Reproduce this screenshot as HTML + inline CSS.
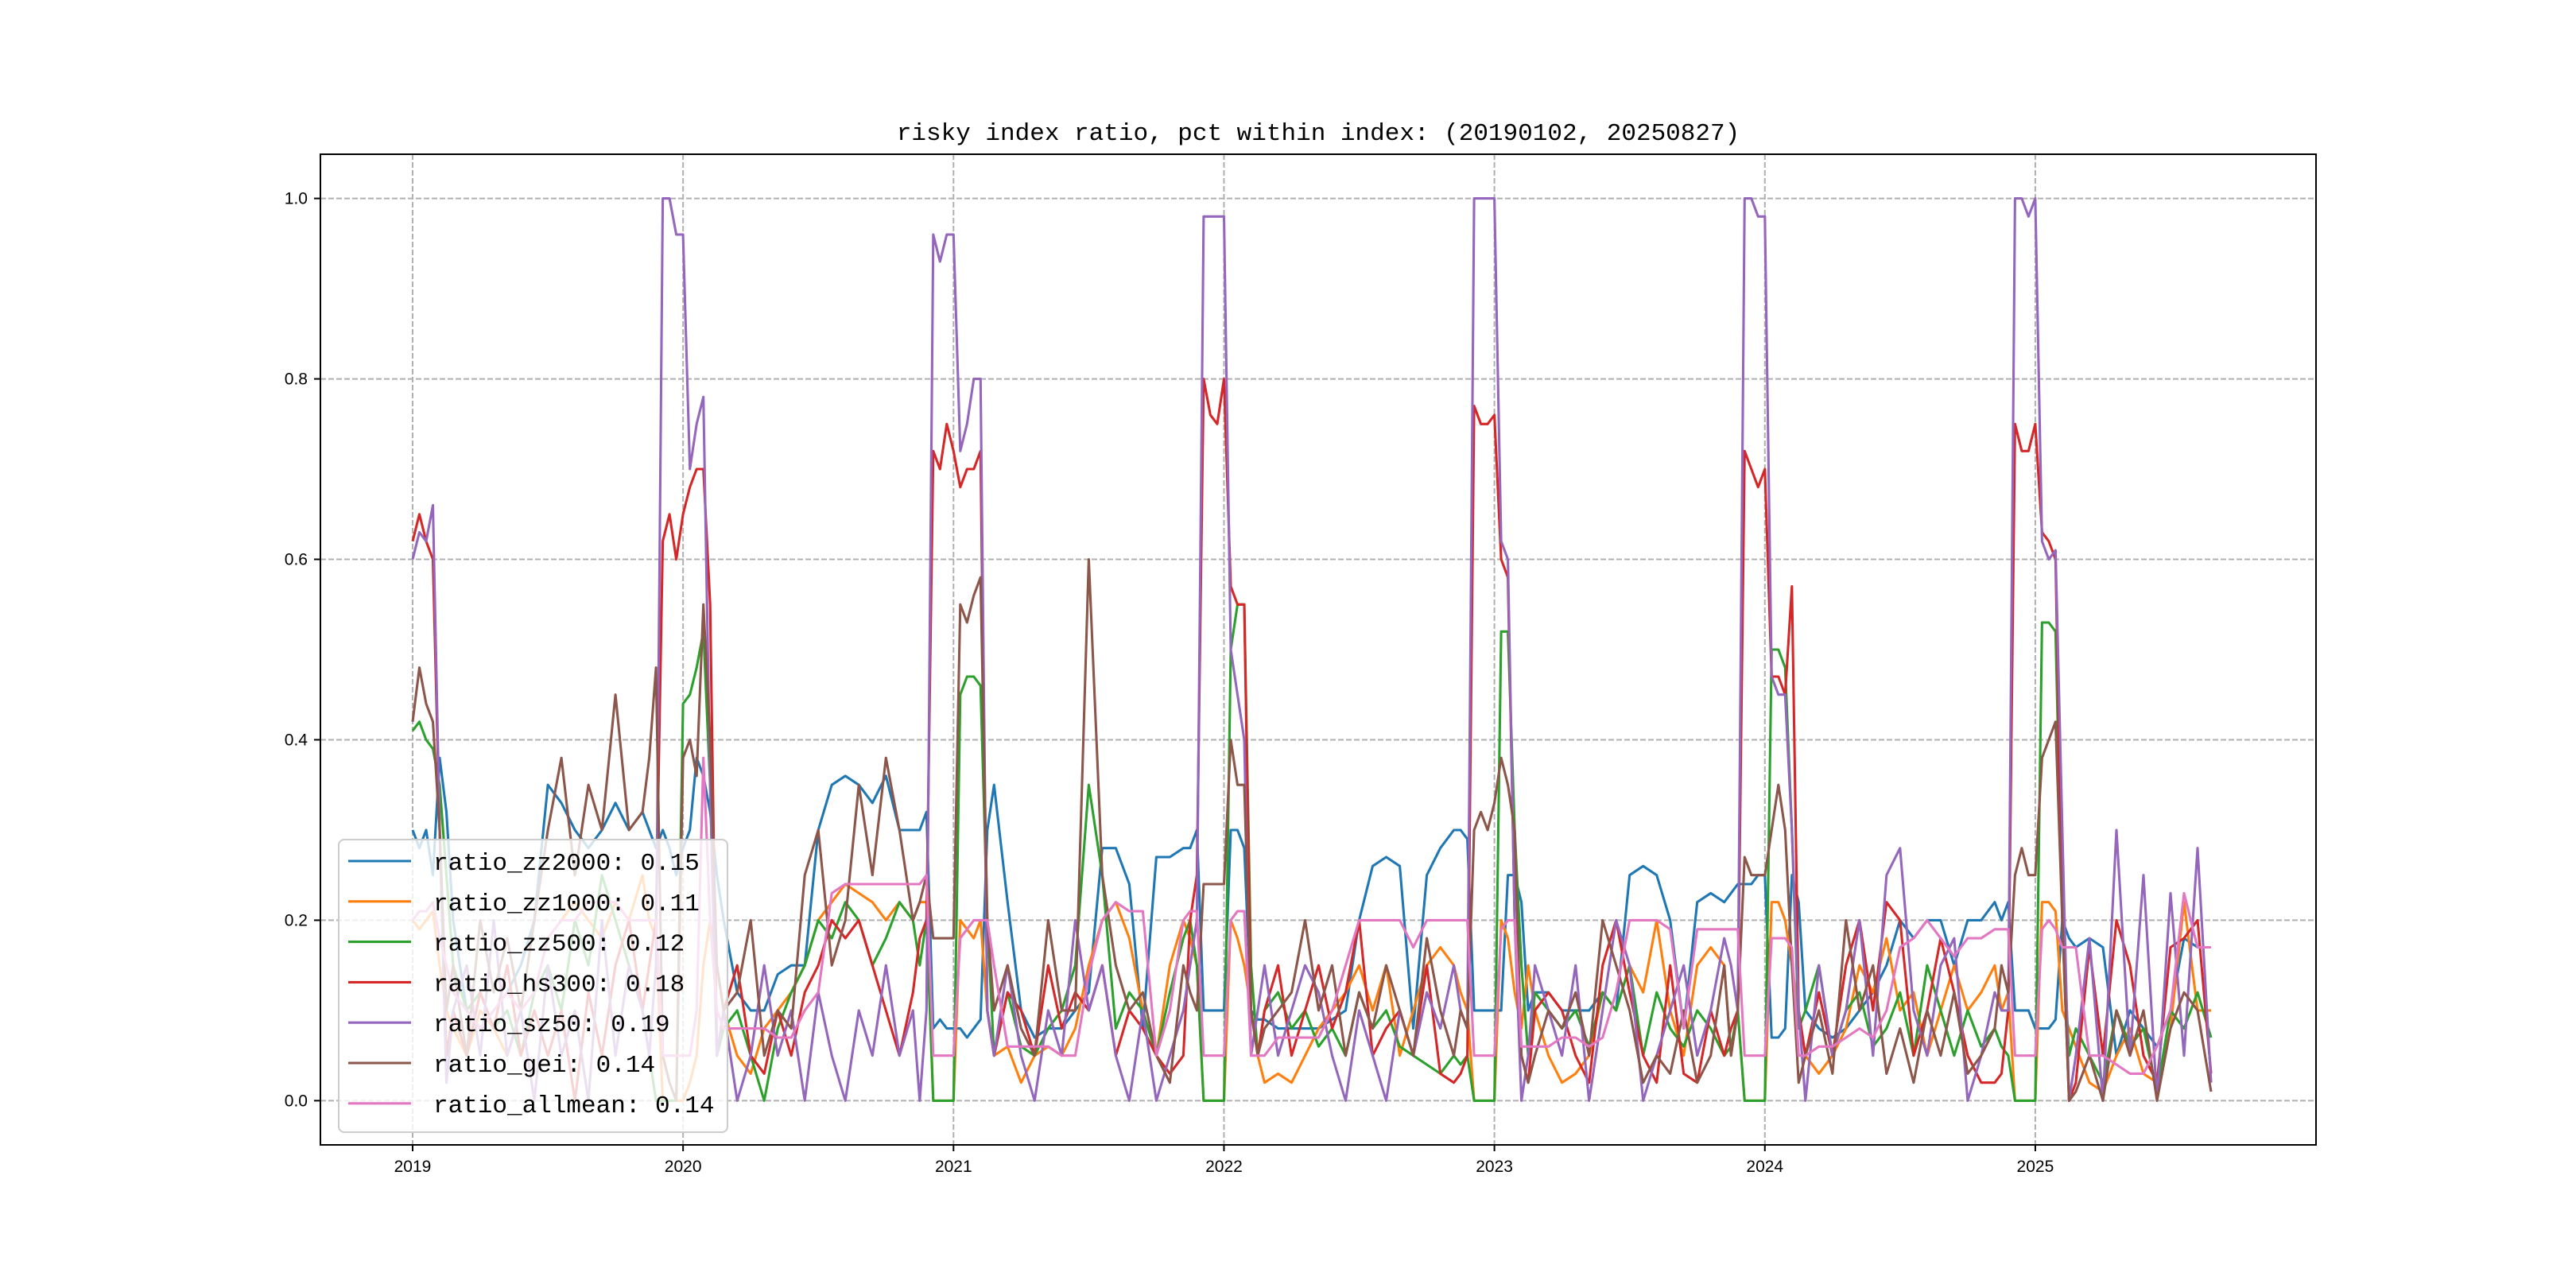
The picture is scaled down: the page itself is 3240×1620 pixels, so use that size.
<!DOCTYPE html>
<html><head><meta charset="utf-8"><style>
html,body{margin:0;padding:0;background:#fff;}
svg{display:block;}
</style></head><body>
<svg id="chart" width="3240" height="1620" xmlns="http://www.w3.org/2000/svg">
<rect width="3240" height="1620" fill="#fff"/>
<text x="1658" y="176" text-anchor="middle" font-family="Liberation Mono, monospace" font-size="31">risky index ratio, pct within index: (20190102, 20250827)</text>
<g id="grid"></g>
<g id="series"></g>
<g id="axes"></g>
<g id="legend"></g>
</svg>
<script>
const years = [2019,2020,2021,2022,2023,2024,2025];
const yearOffsets = [0,.025,.05,.075,.1,.125,.15,.2,.25,.3,.35,.4,.45,.5,.55,.6,.65,.7,.75,.8,.85,.875,.9,.925,.95,.975];
const lastYearCount = 17;
const yTicks = [0.0,0.2,0.4,0.6,0.8,1.0];
const yTickLabels = ["0.0","0.2","0.4","0.6","0.8","1.0"];
const xTicks = [2019,2020,2021,2022,2023,2024,2025];
const xTickLabels = ["2019","2020","2021","2022","2023","2024","2025"];
const seriesNames = ["ratio_zz2000","ratio_zz1000","ratio_zz500","ratio_hs300","ratio_sz50","ratio_gei","ratio_allmean"];
const seriesMeans = ["0.15","0.11","0.12","0.18","0.19","0.14","0.14"];
const colors = ["#1f77b4","#ff7f0e","#2ca02c","#d62728","#9467bd","#8c564b","#e377c2"];

const zz2000 = [
.3,.28,.3,.25,.38,.32,.2,.1,.08,.1,.12,.15,.2,.35,.33,.3,.28,.3,.33,.3,.32,.3,.28,.3,.28,.25,
.28,.3,.38,.36,.32,.25,.2,.12,.1,.1,.14,.15,.15,.3,.35,.36,.35,.33,.36,.3,.3,.3,.32,.08,.09,.08,
.08,.08,.07,.08,.09,.3,.35,.22,.1,.07,.08,.08,.1,.12,.28,.28,.24,.08,.27,.27,.28,.28,.3,.1,.1,.1,
.1,.3,.3,.28,.1,.09,.09,.08,.08,.08,.08,.09,.1,.2,.26,.27,.26,.08,.25,.28,.3,.3,.29,.1,.1,.1,
.1,.1,.25,.25,.22,.1,.12,.12,.1,.1,.1,.12,.1,.25,.26,.25,.2,.08,.22,.23,.22,.23,.24,.24,.24,.25,
.25,.07,.07,.08,.25,.22,.1,.08,.07,.08,.1,.12,.15,.2,.18,.2,.2,.15,.2,.2,.22,.2,.22,.1,.1,.1,
.08,.08,.08,.09,.2,.18,.17,.18,.17,.05,.1,.08,.06,.1,.18,.17,.17];
const zz1000 = [
.2,.19,.2,.21,.15,.1,.08,.05,.1,.08,.05,.1,.12,.18,.2,.22,.2,.18,.22,.2,.25,.2,.18,.0,.0,.0,
.0,.02,.05,.15,.2,.15,.1,.05,.03,.08,.1,.12,.15,.2,.22,.24,.23,.22,.2,.22,.2,.22,.22,.0,.0,.0,
.0,.2,.19,.18,.2,.1,.05,.06,.02,.05,.06,.05,.08,.15,.2,.22,.18,.1,.05,.15,.2,.18,.15,.0,.0,.0,
.0,.2,.18,.15,.1,.05,.02,.03,.02,.05,.08,.1,.12,.15,.1,.15,.05,.1,.15,.17,.15,.12,.1,.0,.0,.0,
.0,.2,.18,.12,.08,.15,.1,.05,.02,.03,.05,.12,.1,.15,.12,.2,.1,.05,.15,.17,.15,.05,.1,.0,.0,.0,
.0,.22,.22,.2,.15,.1,.05,.03,.05,.08,.15,.12,.18,.1,.12,.05,.1,.15,.1,.12,.15,.1,.12,.0,.0,.0,
.0,.22,.22,.21,.1,.08,.06,.02,.01,.05,.08,.03,.02,.08,.22,.1,.1];
const zz500 = [
.41,.42,.4,.39,.35,.25,.15,.1,.12,.08,.1,.05,.12,.15,.1,.2,.15,.25,.2,.15,.1,.05,.0,.0,.0,.0,
.44,.45,.48,.52,.35,.05,.08,.1,.05,.0,.08,.12,.15,.2,.18,.22,.2,.15,.18,.22,.2,.15,.2,.0,.0,.0,
.0,.45,.47,.47,.46,.2,.05,.12,.06,.05,.08,.1,.15,.35,.25,.08,.12,.1,.05,.12,.18,.2,.15,.0,.0,.0,
.0,.5,.55,.55,.15,.05,.1,.12,.08,.1,.06,.08,.05,.12,.08,.1,.06,.05,.04,.03,.05,.04,.05,.0,.0,.0,
.0,.52,.52,.3,.15,.05,.12,.1,.08,.1,.06,.12,.1,.15,.05,.12,.08,.06,.1,.08,.05,.06,.1,.0,.0,.0,
.0,.5,.5,.48,.3,.08,.1,.15,.05,.1,.12,.06,.08,.12,.05,.15,.1,.05,.1,.06,.08,.06,.05,.0,.0,.0,
.0,.53,.53,.52,.2,.05,.08,.05,.02,.1,.06,.08,.01,.1,.08,.12,.07];
const hs300 = [
.62,.65,.62,.6,.3,.05,.1,.05,.12,.08,.15,.05,.1,.05,.1,.0,.12,.05,.15,.2,.1,.15,.2,.62,.65,.6,
.65,.68,.7,.7,.55,.05,.1,.15,.05,.03,.1,.05,.12,.15,.2,.18,.2,.15,.1,.05,.12,.18,.2,.72,.7,.75,
.72,.68,.7,.7,.72,.1,.05,.12,.1,.05,.15,.08,.12,.1,.15,.05,.1,.08,.05,.03,.05,.2,.25,.8,.76,.75,
.8,.57,.55,.55,.1,.05,.1,.15,.05,.1,.15,.08,.12,.2,.05,.08,.1,.05,.15,.03,.02,.03,.05,.77,.75,.75,
.76,.6,.58,.2,.05,.02,.1,.12,.1,.05,.02,.15,.2,.12,.05,.02,.15,.03,.02,.1,.05,.08,.1,.72,.7,.68,
.7,.47,.47,.45,.57,.1,.05,.12,.05,.15,.2,.1,.22,.2,.05,.1,.18,.12,.05,.02,.02,.03,.1,.75,.72,.72,
.75,.63,.62,.6,.2,.0,.02,.17,.05,.2,.15,.05,.02,.17,.18,.2,.03];
const sz50 = [
.6,.63,.62,.66,.3,.02,.1,.15,.05,.2,.05,.1,.0,.15,.05,.1,.0,.2,.05,.15,.1,.05,.15,1.0,1.0,.96,
.96,.7,.75,.78,.35,.05,.1,.0,.05,.15,.05,.1,.0,.12,.05,.0,.1,.05,.15,.05,.1,.0,.1,.96,.93,.96,
.96,.72,.75,.8,.8,.1,.05,.15,.05,.0,.1,.05,.2,.1,.15,.05,.0,.1,.0,.05,.1,.15,.2,.98,.98,.98,
.98,.5,.45,.4,.05,.1,.15,.05,.1,.15,.12,.05,.0,.1,.05,.0,.1,.05,.12,.08,.15,.1,.08,1.0,1.0,1.0,
1.0,.62,.6,.2,.0,.05,.15,.1,.05,.15,.0,.1,.2,.15,.0,.05,.1,.15,.05,.1,.18,.15,.1,1.0,1.0,.98,
.98,.47,.45,.45,.3,.1,.0,.15,.05,.1,.2,.05,.25,.28,.1,.05,.15,.18,.0,.05,.12,.1,.1,1.0,1.0,.98,
1.0,.62,.6,.61,.3,.0,.05,.18,.0,.3,.05,.25,.0,.23,.05,.28,.02];
const gei = [
.42,.48,.44,.42,.3,.1,.15,.05,.2,.12,.18,.1,.2,.3,.38,.25,.35,.3,.45,.3,.32,.38,.48,.05,.02,.0,
.38,.4,.36,.55,.4,.15,.1,.12,.2,.05,.1,.08,.25,.3,.15,.2,.35,.25,.38,.3,.2,.22,.25,.18,.18,.18,
.18,.55,.53,.56,.58,.2,.1,.15,.08,.05,.2,.1,.1,.6,.25,.15,.1,.12,.05,.02,.15,.12,.1,.24,.24,.24,
.24,.4,.35,.35,.1,.05,.08,.1,.12,.2,.1,.15,.05,.12,.08,.15,.1,.05,.18,.1,.05,.1,.08,.3,.32,.3,
.33,.38,.35,.3,.05,.02,.05,.1,.08,.12,.05,.2,.15,.1,.02,.05,.03,.1,.02,.05,.15,.05,.1,.27,.25,.25,
.25,.3,.35,.3,.15,.02,.05,.1,.03,.2,.1,.15,.03,.08,.02,.1,.05,.12,.03,.05,.08,.15,.12,.25,.28,.25,
.25,.38,.4,.42,.2,.0,.01,.05,.0,.1,.05,.1,.0,.08,.12,.1,.01];
const allmean = [
.2,.21,.21,.22,.18,.15,.12,.1,.08,.1,.12,.1,.12,.18,.2,.2,.22,.22,.22,.2,.2,.2,.2,.05,.05,.05,
.05,.05,.1,.38,.2,.1,.08,.08,.08,.08,.07,.07,.1,.12,.23,.24,.24,.24,.24,.24,.24,.24,.25,.05,.05,.05,
.05,.18,.19,.2,.2,.2,.15,.06,.06,.06,.06,.05,.05,.14,.2,.22,.21,.21,.05,.1,.2,.21,.21,.05,.05,.05,
.05,.2,.21,.21,.05,.05,.05,.07,.07,.07,.07,.1,.15,.2,.2,.2,.2,.17,.2,.2,.2,.2,.2,.05,.05,.05,
.05,.19,.2,.2,.06,.06,.06,.06,.07,.07,.06,.07,.12,.2,.2,.2,.19,.08,.19,.19,.19,.19,.19,.05,.05,.05,
.05,.18,.18,.18,.17,.05,.05,.06,.06,.07,.08,.07,.1,.17,.18,.2,.18,.16,.18,.18,.19,.19,.19,.05,.05,.05,
.05,.19,.2,.19,.17,.17,.17,.05,.05,.04,.03,.03,.06,.1,.23,.17,.17];
const allSeries = [zz2000,zz1000,zz500,hs300,sz50,gei,allmean];

const dates = [];
years.forEach((y,k)=>{
  const n = (k===years.length-1) ? lastYearCount : yearOffsets.length;
  for(let j=0;j<n;j++) dates.push(y+yearOffsets[j]);
});

const L=403,R=2913,T=194,B=1440;
const xMin=2018.659,xMax=2026.038,yMin=-0.049,yMax=1.049;
const X=t=>L+(t-xMin)/(xMax-xMin)*(R-L);
const Y=v=>B-(v-yMin)/(yMax-yMin)*(B-T);
const NS="http://www.w3.org/2000/svg";
function mk(tag,attrs,parent){const e=document.createElementNS(NS,tag);for(const k in attrs)e.setAttribute(k,attrs[k]);parent.appendChild(e);return e;}

const grid=document.getElementById('grid');
xTicks.forEach((t,i)=>{
  const g=mk('line',{x1:X(t),x2:X(t),y1:T,y2:B,stroke:'#b0b0b0','stroke-width':2,'stroke-dasharray':'7,3'},grid);
  
  
});
yTicks.forEach((v,i)=>{
  const g=mk('line',{x1:L,x2:R,y1:Y(v),y2:Y(v),stroke:'#b0b0b0','stroke-width':2,'stroke-dasharray':'7,3'},grid);
  
  
});

const sg=document.getElementById('series');
allSeries.forEach((s,k)=>{
  const pts=s.map((v,i)=>X(dates[i]).toFixed(1)+','+Y(v).toFixed(1)).join(' ');
  const p=mk('polyline',{points:pts,fill:'none',stroke:colors[k],'stroke-width':3.1,'stroke-linejoin':'round'},sg);
  
  
});

const ax=document.getElementById('axes');
const frame=mk('rect',{x:L,y:T,width:R-L,height:B-T,fill:'none',stroke:'#000','stroke-width':2},ax);


xTicks.forEach((t,i)=>{
  mk('line',{x1:X(t),x2:X(t),y1:B,y2:B+8,stroke:'#000','stroke-width':2},ax);
  const tx=mk('text',{x:X(t),y:B+34,'text-anchor':'middle','font-family':'Liberation Sans, sans-serif','font-size':21},ax);
  tx.textContent=xTickLabels[i];
  
  
});
yTicks.forEach((v,i)=>{
  mk('line',{x1:L-8,x2:L,y1:Y(v),y2:Y(v),stroke:'#000','stroke-width':2},ax);
  const tx=mk('text',{x:L-16,y:Y(v)+7,'text-anchor':'end','font-family':'Liberation Sans, sans-serif','font-size':21},ax);
  tx.textContent=yTickLabels[i];
  
  
});

const lg=document.getElementById('legend');
const box=mk('rect',{x:426,y:1056,width:489,height:368,rx:7,fill:'#fff','fill-opacity':0.8,stroke:'#cccccc','stroke-width':2},lg);


seriesNames.forEach((n,k)=>{
  const yy=1083+k*50.8;
  const ln=mk('line',{x1:438,x2:517,y1:yy,y2:yy,stroke:colors[k],'stroke-width':3.1},lg);
  
  
  const tx=mk('text',{x:545,y:yy+11,'font-family':'Liberation Mono, monospace','font-size':31},lg);
  tx.textContent=n+': '+seriesMeans[k];
  
  
});
</script>
</body></html>
